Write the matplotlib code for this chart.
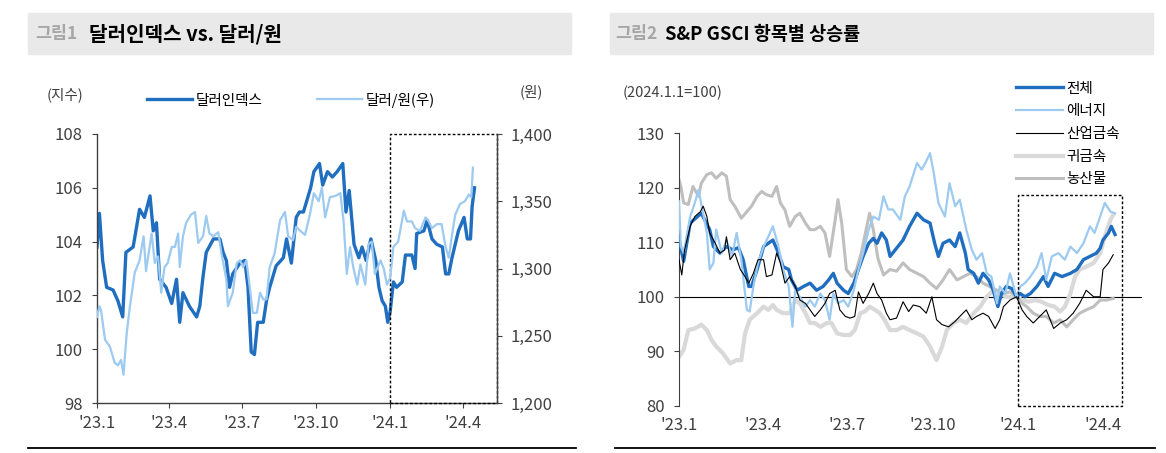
import numpy as np
import matplotlib
matplotlib.use('Agg')
from matplotlib import pyplot as plt
from matplotlib import dates as mdates
from matplotlib.patches import Rectangle
from matplotlib.lines import Line2D
from matplotlib.ticker import FuncFormatter

plt.rcParams['font.family'] = ['Noto Sans CJK KR', 'DejaVu Sans']

BASE = np.datetime64('2023-01-01')

# ---- chart 1 : dollar index vs KRW (x = days since 2023-01-01) ----
dxy_day = [0, 3, 7, 12, 20, 26, 32, 36, 45, 53, 59, 66, 70, 74, 78, 86, 93, 99, 103, 107,
           115, 124, 128, 132, 136, 145, 153, 157, 161, 165, 169, 178, 184, 188, 192, 196,
           200, 207, 211, 215, 223, 232, 236, 242, 248, 252, 257, 266, 270, 277, 281, 287,
           293, 299, 306, 310, 314, 320, 326, 330, 335, 341, 347, 351, 355, 359, 362, 365,
           369, 373, 380, 384, 392, 396, 398, 407, 411, 417, 423, 430, 434, 438, 442, 446,
           450, 457, 461, 465, 467, 470]
dxy_val = [103.8, 105.05, 103.3, 102.3, 102.2, 101.8, 101.2, 103.6, 103.8, 105.2, 104.9, 105.7,
           104.4, 104.7, 102.6, 102.3, 101.7, 102.6, 101.0, 102.1, 101.6, 101.2, 101.6, 102.7,
           103.6, 104.1, 104.1, 103.6, 103.3, 102.3, 102.8, 103.2, 103.3, 102.3, 99.9, 99.8,
           101.0, 101.0, 101.8, 102.3, 103.1, 103.4, 104.1, 103.2, 104.9, 105.1, 105.1, 106.0,
           106.6, 106.9, 106.1, 106.6, 106.4, 106.6, 106.9, 105.1, 105.9, 103.9, 103.4, 103.8,
           103.3, 104.1, 103.3, 102.3, 101.8, 101.6, 101.0, 101.4, 102.5, 102.3, 102.5, 103.5,
           103.5, 103.0, 104.3, 104.4, 104.8, 104.1, 103.9, 103.8, 102.8, 102.8, 103.4, 103.9,
           104.4, 104.9, 104.1, 104.1, 105.3, 106.0]

krw_day = [0, 3, 5, 10, 16, 22, 26, 30, 33, 37, 41, 47, 53, 58, 61, 68, 72, 76, 80, 84, 88,
           93, 97, 101, 103, 107, 111, 117, 122, 126, 132, 136, 140, 145, 151, 155, 161, 163,
           169, 174, 178, 182, 186, 190, 194, 199, 203, 207, 211, 215, 221, 228, 234, 238,
           244, 248, 253, 259, 265, 270, 276, 280, 284, 290, 297, 303, 307, 311, 315, 319,
           324, 328, 334, 338, 342, 346, 353, 357, 361, 365, 369, 375, 382, 386, 392, 396,
           402, 409, 413, 417, 423, 429, 434, 438, 442, 446, 452, 458, 463, 466, 468]
krw_val = [1264, 1272, 1269, 1247, 1242, 1230, 1228, 1232, 1221, 1252, 1272, 1297, 1306, 1324,
           1298, 1326, 1304, 1309, 1282, 1301, 1304, 1316, 1316, 1326, 1301, 1324, 1334, 1340,
           1342, 1319, 1324, 1339, 1326, 1324, 1327, 1311, 1292, 1272, 1282, 1304, 1306, 1301,
           1306, 1287, 1267, 1267, 1282, 1277, 1277, 1301, 1311, 1336, 1342, 1324, 1321, 1331,
           1328, 1325, 1340, 1356, 1350, 1360, 1338, 1353, 1354, 1356, 1335, 1296, 1316, 1301,
           1288, 1303, 1288, 1318, 1320, 1296, 1306, 1300, 1288, 1293, 1316, 1320, 1343, 1335,
           1335, 1330, 1328, 1338, 1335, 1330, 1333, 1333, 1316, 1308, 1325, 1340, 1348, 1350,
           1355, 1353, 1375]

# ---- chart 2 : S&P GSCI sub-indices (2024.1.1 = 100) ----
total_day = [0, 5, 12, 24, 33, 37, 44, 51, 58, 64, 69, 75, 78, 84, 91, 96, 101, 107, 112, 118,
             121, 127, 134, 141, 148, 155, 161, 166, 170, 177, 182, 188, 193, 198, 204, 209,
             213, 218, 223, 227, 234, 241, 248, 256, 263, 270, 275, 279, 284, 291, 297, 302,
             308, 311, 317, 322, 327, 333, 338, 343, 347, 352, 358, 363, 367, 372, 378, 385,
             392, 397, 404, 412, 421, 428, 435, 442, 449, 453, 456, 462, 465, 469]
total_val = [110.5, 106.5, 113.5, 115.3, 112.3, 109.2, 108.0, 109.2, 108.6, 109.0, 106.8, 101.9,
             101.9, 105.0, 109.2, 109.8, 110.4, 108.0, 105.5, 105.0, 103.1, 101.2, 101.9, 102.5,
             101.2, 101.9, 103.1, 104.3, 102.5, 101.2, 100.6, 102.5, 105.0, 107.4, 109.8, 110.7,
             109.8, 111.7, 110.4, 107.4, 108.9, 110.4, 112.9, 115.3, 114.1, 113.5, 109.8, 107.4,
             109.8, 110.4, 109.2, 111.7, 108.0, 105.0, 104.3, 102.5, 104.3, 103.1, 101.2, 98.2,
             100.6, 101.9, 101.5, 100.0, 100.6, 100.0, 100.6, 101.9, 103.7, 101.9, 104.3, 103.7,
             104.3, 105.0, 106.8, 107.4, 108.0, 108.9, 110.4, 111.7, 112.9, 111.4]

energy_day = [0, 2, 5, 12, 17, 21, 30, 33, 37, 40, 46, 51, 57, 62, 67, 73, 76, 80, 85, 91, 96,
              101, 107, 112, 118, 122, 125, 130, 136, 141, 146, 152, 157, 162, 166, 171, 177,
              182, 188, 193, 198, 204, 209, 215, 220, 225, 230, 238, 243, 248, 256, 261, 265,
              270, 274, 279, 286, 291, 297, 302, 309, 315, 320, 326, 331, 336, 342, 345, 351,
              356, 363, 367, 372, 378, 385, 390, 395, 401, 408, 415, 421, 428, 435, 442, 447,
              453, 458, 464, 469]
energy_val = [117.5, 109.2, 108.0, 114.7, 117.2, 119.6, 111.7, 105.0, 106.2, 112.3, 108.0, 110.4,
              107.4, 111.7, 106.8, 97.6, 97.3, 101.9, 106.2, 109.2, 111.0, 112.9, 109.2, 105.0,
              101.9, 94.5, 101.2, 100.0, 98.2, 99.4, 98.2, 100.6, 99.4, 95.8, 100.6, 98.8, 99.4,
              98.2, 101.2, 105.0, 108.0, 112.3, 114.7, 114.1, 118.4, 116.0, 116.0, 114.1, 118.4,
              120.2, 124.5, 123.3, 124.5, 126.3, 122.7, 117.2, 114.7, 120.8, 116.6, 117.8, 112.3,
              108.6, 106.8, 108.0, 104.3, 103.7, 98.8, 101.9, 100.6, 104.3, 100.0, 101.9, 102.5,
              103.7, 105.5, 108.0, 103.1, 107.4, 108.0, 106.8, 109.2, 108.0, 109.8, 112.9, 111.7,
              114.7, 117.2, 115.6, 115.3]

metal_day = [0, 3, 6, 12, 17, 23, 26, 30, 33, 39, 44, 49, 51, 55, 60, 66, 71, 75, 80, 85, 91,
             94, 100, 105, 109, 114, 119, 125, 130, 136, 141, 146, 152, 157, 162, 168, 173, 179,
             184, 189, 193, 198, 204, 209, 213, 218, 223, 227, 234, 241, 247, 252, 259, 266,
             272, 277, 283, 290, 297, 302, 309, 315, 320, 327, 333, 340, 345, 349, 356, 363,
             369, 374, 381, 388, 395, 403, 410, 417, 424, 431, 438, 446, 453, 456, 462, 467]
metal_val = [106.8, 104.0, 108.6, 112.9, 114.7, 115.6, 116.6, 114.7, 111.7, 109.8, 108.0, 108.6,
             111.0, 106.8, 108.0, 105.0, 103.7, 102.5, 104.3, 106.8, 106.8, 103.7, 104.0, 108.0,
             106.2, 102.5, 103.7, 101.9, 99.4, 98.8, 97.6, 96.4, 97.6, 98.8, 100.6, 101.2, 97.6,
             96.4, 96.1, 96.4, 100.9, 98.8, 100.6, 102.5, 100.6, 99.4, 97.0, 95.8, 96.1, 99.1,
             97.3, 98.5, 98.2, 97.0, 100.0, 95.8, 94.9, 94.5, 95.5, 96.4, 97.6, 95.8, 96.4, 97.0,
             96.4, 94.2, 95.8, 98.2, 99.4, 100.0, 97.6, 96.4, 95.2, 96.4, 97.6, 94.2, 95.2, 95.8,
             97.0, 98.8, 101.2, 100.0, 100.0, 105.0, 106.2, 107.7]

gold_day = [0, 5, 10, 17, 24, 30, 35, 40, 47, 55, 62, 67, 71, 76, 84, 91, 96, 101, 105, 112,
            119, 125, 130, 136, 141, 146, 152, 159, 164, 170, 177, 184, 189, 195, 200, 205,
            211, 216, 221, 227, 234, 241, 248, 256, 263, 270, 277, 283, 288, 295, 302, 309,
            317, 324, 331, 338, 345, 352, 363, 369, 376, 383, 390, 397, 404, 410, 415, 421,
            426, 431, 438, 446, 453, 458, 464, 467]
gold_val = [89.0, 90.3, 93.9, 94.2, 94.9, 93.9, 92.1, 90.9, 89.7, 87.8, 88.4, 88.4, 93.3, 95.8,
            97.0, 98.2, 97.6, 98.5, 97.6, 97.0, 97.0, 99.4, 98.8, 97.0, 95.2, 95.2, 94.5, 95.2,
            95.2, 93.3, 93.0, 93.0, 93.9, 97.0, 97.3, 98.2, 97.6, 97.0, 95.8, 93.9, 93.9, 94.5,
            93.9, 93.3, 92.7, 90.9, 88.4, 90.9, 93.9, 95.2, 95.8, 95.2, 97.0, 98.2, 100.0, 101.2,
            100.6, 100.0, 100.0, 99.4, 99.1, 99.4, 99.1, 98.5, 98.2, 97.3, 98.2, 100.6, 103.7,
            105.0, 105.5, 106.2, 108.0, 111.0, 114.1, 115.0]

agri_day = [0, 2, 5, 10, 15, 21, 24, 30, 35, 40, 46, 51, 55, 60, 67, 73, 78, 84, 89, 94, 100,
            105, 109, 114, 119, 125, 130, 136, 141, 146, 152, 157, 162, 168, 171, 175, 180,
            186, 191, 196, 202, 205, 209, 214, 220, 227, 234, 241, 248, 256, 263, 270, 277,
            284, 291, 299, 306, 313, 320, 327, 334, 342, 349, 356, 363, 369, 374, 381, 388,
            395, 403, 410, 417, 424, 431, 438, 446, 453, 460, 467]
agri_val = [121.4, 120.2, 117.2, 116.9, 120.2, 118.4, 120.8, 122.4, 122.7, 121.7, 122.7, 122.1,
            117.8, 116.6, 114.4, 115.6, 116.6, 118.4, 119.3, 118.7, 118.4, 120.2, 117.2, 115.9,
            112.9, 114.7, 115.3, 113.5, 112.3, 112.3, 112.9, 111.7, 107.4, 114.1, 117.8, 113.5,
            105.0, 103.7, 105.0, 108.0, 112.9, 115.3, 112.3, 107.0, 104.0, 105.0, 104.7, 106.2,
            105.0, 104.3, 103.7, 102.5, 101.5, 103.1, 105.0, 103.1, 103.7, 104.3, 103.7, 102.5,
            101.9, 101.2, 100.6, 100.9, 100.0, 98.8, 98.2, 97.0, 96.4, 96.4, 95.2, 95.8, 94.5,
            95.8, 97.0, 97.6, 98.2, 99.4, 99.4, 99.7]

tick_dates = ['2023-01-01', '2023-04-01', '2023-07-01', '2023-10-01', '2024-01-01', '2024-04-01']
tick_labels = ["'23.1", "'23.4", "'23.7", "'23.10", "'24.1", "'24.4"]


def to_dates(days):
    return BASE + np.array(days).astype('timedelta64[D]')


def fx(px):
    return px / 1166


def fy(py):
    return 1 - py / 453


DARK = '#1f6ebf'
LIGHT = '#9ccaf0'
TXT = '#404040'
TICK_FS = 12

fig = plt.figure(figsize=(11.66, 4.53), dpi=100)

# title bars
for x0, x1 in [(28, 571), (610, 1153)]:
    fig.add_artist(Rectangle((fx(x0), fy(54)), (x1 - x0) / 1166, 41 / 453,
                             transform=fig.transFigure, color='#e9e9e9', zorder=0))
fig.text(fx(35), fy(34), '그림1', fontsize=12.5, fontweight='bold', color='#a6a6a6', va='center')
fig.text(fx(89), fy(34), '달러인덱스 vs. 달러/원', fontsize=14.5, fontweight='bold', va='center')
fig.text(fx(615), fy(34), '그림2', fontsize=12.5, fontweight='bold', color='#a6a6a6', va='center')
fig.text(fx(665), fy(34), 'S&P GSCI 항목별 상승률', fontsize=13.3, fontweight='bold', va='center')

# bottom rules
for x0, x1 in [(28, 576), (615, 1155)]:
    fig.add_artist(Line2D([fx(x0), fx(x1)], [fy(448), fy(448)], color='black', lw=1.3,
                          transform=fig.transFigure))

xmin = BASE
xmax = BASE + np.timedelta64(498, 'D')
ticks = [np.datetime64(d) for d in tick_dates]

# ---------------- left chart ----------------
ax1 = fig.add_axes([fx(97), fy(403), 400 / 1166, 269 / 453])
l1, = ax1.plot(to_dates(dxy_day), dxy_val, color=DARK, lw=2.4, label='달러인덱스')
ax2 = ax1.twinx()
l2, = ax2.plot(to_dates(krw_day), krw_val, color=LIGHT, lw=1.6, label='달러/원(우)')
ax1.set_xlim(xmin, xmax)
ax1.set_ylim(98, 108)
ax2.set_ylim(1200, 1400)
ax1.set_yticks(np.arange(98, 109, 2))
ax2.set_yticks(np.arange(1200, 1401, 50))
ax2.yaxis.set_major_formatter(FuncFormatter(lambda v, p: f'{v:,.0f}'))
ax1.set_xticks(ticks)
ax1.set_xticklabels(tick_labels)
for s in ['top', 'right']:
    ax1.spines[s].set_visible(False)
for s in ['top', 'left', 'bottom']:
    ax2.spines[s].set_visible(False)
for a in (ax1, ax2):
    for s in a.spines.values():
        s.set_color(TXT)
        s.set_linewidth(1.0)
ax1.tick_params(axis='y', direction='out', length=3.5, pad=7, labelsize=TICK_FS, colors=TXT)
ax1.tick_params(axis='x', direction='out', length=3.5, pad=5, labelsize=TICK_FS, colors=TXT)
ax2.tick_params(axis='y', direction='out', length=3.5, pad=6, labelsize=TICK_FS, colors=TXT)

hl_start = mdates.date2num(np.datetime64('2024-01-01'))
ax1.add_patch(Rectangle((hl_start, 98), mdates.date2num(xmax) - hl_start, 10, fill=False,
                        ec='black', lw=1.0, ls=(0, (2, 1.5)), clip_on=False, zorder=5))

ax2.legend([l1, l2], [l1.get_label(), l2.get_label()], ncol=2, loc='center left',
           bbox_to_anchor=(fx(147), fy(100)), bbox_transform=fig.transFigure, frameon=False,
           fontsize=10.5, handlelength=3.1, handletextpad=0.25, columnspacing=3.7,
           borderpad=0, borderaxespad=0)
fig.text(fx(65), fy(95), '(지수)', ha='center', va='center', fontsize=10.5, color=TXT)
fig.text(fx(531), fy(92), '(원)', ha='center', va='center', fontsize=10.5, color=TXT)

# ---------------- right chart ----------------
ax3 = fig.add_axes([fx(679), fy(406), 463 / 1166, 273 / 453])
ax3.axhline(100, color='black', lw=0.8, zorder=1)
ax3.plot(to_dates(total_day), total_val, color=DARK, lw=2.4, label='전체', zorder=3)
ax3.plot(to_dates(energy_day), energy_val, color=LIGHT, lw=1.6, label='에너지', zorder=3)
ax3.plot(to_dates(metal_day), metal_val, color='black', lw=0.8, label='산업금속', zorder=3)
ax3.plot(to_dates(gold_day), gold_val, color='#d9d9d9', lw=3.0, label='귀금속', zorder=2)
ax3.plot(to_dates(agri_day), agri_val, color='#bfbfbf', lw=2.2, label='농산물', zorder=2)
ax3.set_xlim(xmin, xmax)
ax3.set_ylim(80, 130)
ax3.set_yticks(np.arange(80, 131, 10))
ax3.set_xticks(ticks)
ax3.set_xticklabels(tick_labels)
for s in ['top', 'right', 'bottom']:
    ax3.spines[s].set_visible(False)
ax3.spines['left'].set_color(TXT)
ax3.tick_params(axis='y', direction='out', length=3.5, pad=7, labelsize=TICK_FS, colors=TXT)
ax3.tick_params(axis='x', length=0, pad=8, labelsize=TICK_FS, colors=TXT)

hl_end = mdates.date2num(np.datetime64('2024-04-21'))
ax3.add_patch(Rectangle((hl_start, 80), hl_end - hl_start, 38.6, fill=False,
                        ec='black', lw=1.0, ls=(0, (2, 1.5)), clip_on=False, zorder=5))

ax3.legend(loc='center left', bbox_to_anchor=(fx(1016), fy(134)), bbox_transform=fig.transFigure,
           frameon=False, fontsize=10.5, handlelength=3.2, handletextpad=0.25, labelspacing=0.6,
           borderpad=0, borderaxespad=0)
fig.text(fx(623), fy(93), '(2024.1.1=100)', ha='left', va='center', fontsize=10.5, color=TXT)

fig.savefig('out.png', dpi=100)
